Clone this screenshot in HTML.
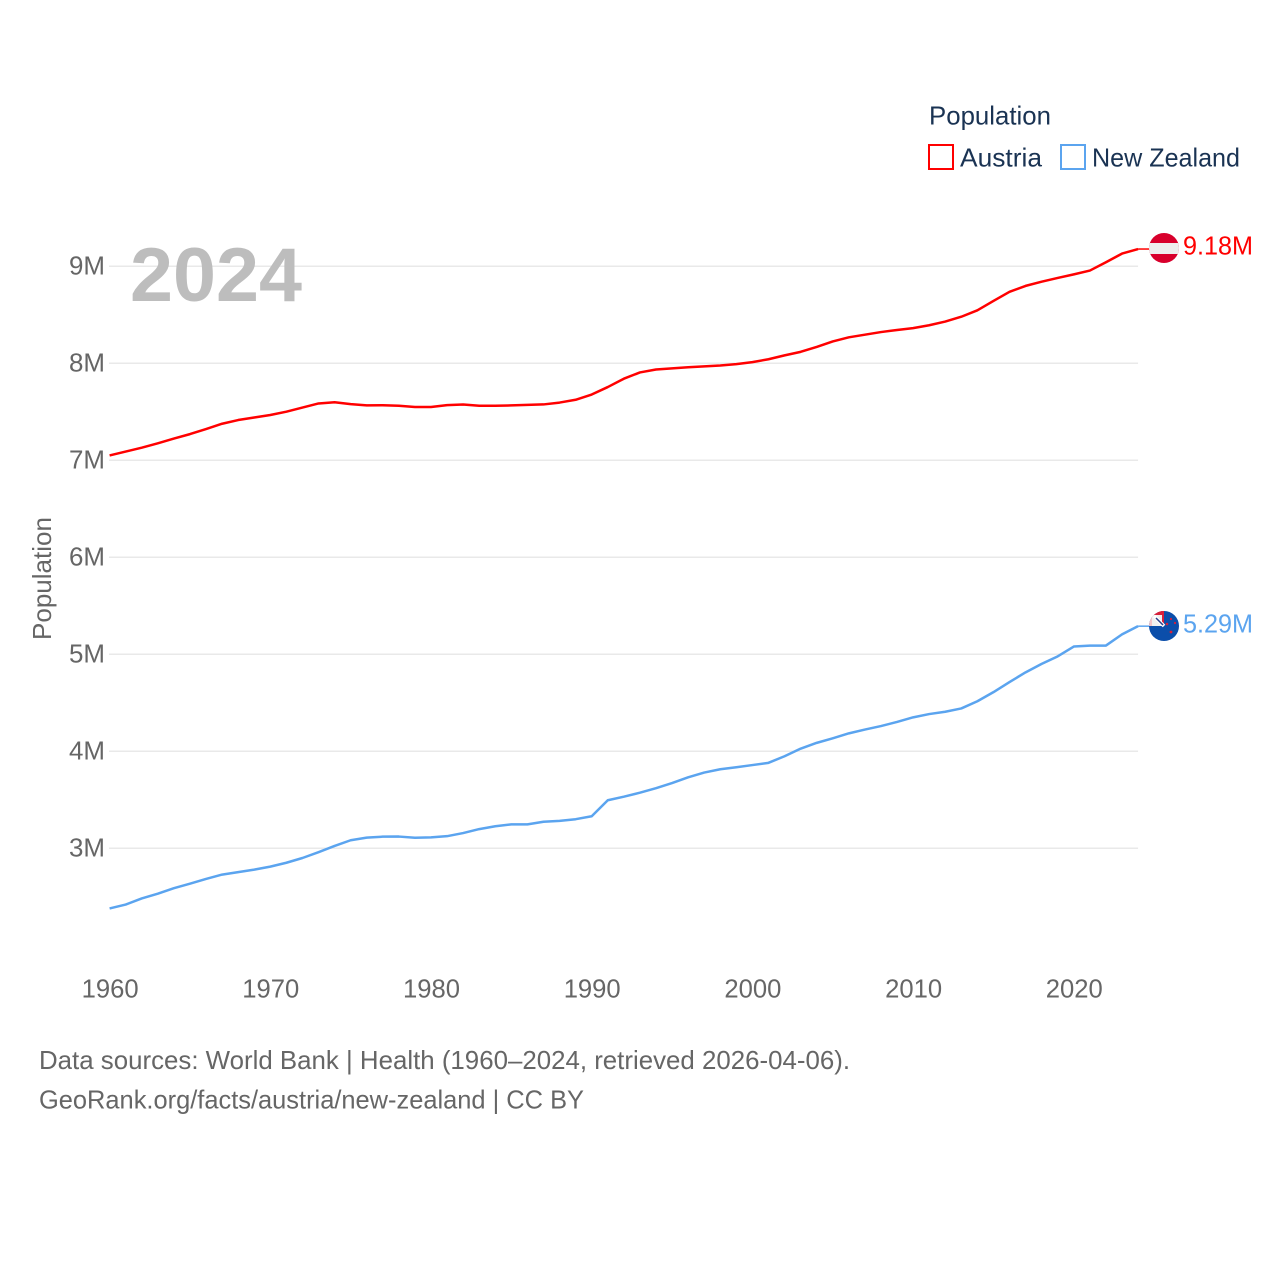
<!DOCTYPE html>
<html lang="en">
<head>
<meta charset="utf-8">
<title>Population: Austria and New Zealand</title>
<style>
html,body{margin:0;padding:0;background:#fff;width:1280px;height:1280px;overflow:hidden}
svg{display:block}
text{font-family:"Liberation Sans",sans-serif}
</style>
</head>
<body>
<svg id="chart" xmlns="http://www.w3.org/2000/svg" width="1280" height="1280" viewBox="0 0 1280 1280">
  <defs>
    <clipPath id="flag-clip-at"><circle cx="1164" cy="248" r="15"/></clipPath>
    <clipPath id="flag-clip-nz"><circle cx="1164" cy="626" r="15"/></clipPath>
  </defs>
  <g id="grid"></g>
  <g id="y-ticks"></g>
  <g id="x-ticks"></g>
  <text transform="translate(51,640) rotate(-90)" font-size="26" fill="#666" textLength="123" lengthAdjust="spacingAndGlyphs">Population</text>
  <text x="130" y="301" font-size="76" font-weight="700" fill="#bdbdbd" textLength="172" lengthAdjust="spacingAndGlyphs">2024</text>
  <g id="series"></g>

  <g clip-path="url(#flag-clip-at)">
    <rect x="1149" y="233" width="30" height="30" fill="#d8002c"/>
    <rect x="1149" y="243" width="30" height="11" fill="#eeeeee"/>
  </g>
  <g clip-path="url(#flag-clip-nz)">
    <rect x="1149" y="611" width="30" height="30" fill="#0b4eaa"/>
    <rect x="1149" y="611" width="15" height="15" fill="#f4c4c8"/>
    <rect x="1149" y="611" width="15" height="4" fill="#d8203a"/>
    <rect x="1157" y="611" width="7" height="15" fill="#d8203a"/>
    <rect x="1152" y="615" width="10" height="11" fill="#f0f0f0"/>
    <path d="M1154 616 L1164 626" stroke="#fff" stroke-width="3.5"/>
    <path d="M1156 618 L1163 625" stroke="#2a3f8a" stroke-width="1.5"/>
    <circle cx="1171" cy="619" r="1.1" fill="#d8203a"/>
    <circle cx="1167" cy="624" r="1.3" fill="#d8203a"/>
    <circle cx="1175" cy="623" r="1.1" fill="#d8203a"/>
    <circle cx="1171" cy="632" r="1.4" fill="#d8203a"/>
  </g>
  <g id="end-labels"></g>

  <g>
    <text x="929" y="124.5" font-size="26" fill="#1a3353" textLength="122" lengthAdjust="spacingAndGlyphs">Population</text>
    <g>
      <rect x="929" y="145" width="24" height="24" fill="none" stroke="#ff0000" stroke-width="2"/>
      <text x="960" y="166.5" font-size="26" fill="#1a3353" textLength="82" lengthAdjust="spacingAndGlyphs">Austria</text>
    </g>
    <g>
      <rect x="1061" y="145" width="24" height="24" fill="none" stroke="#5ba4ef" stroke-width="2"/>
      <text x="1092" y="166.5" font-size="26" fill="#1a3353" textLength="148" lengthAdjust="spacingAndGlyphs">New Zealand</text>
    </g>
  </g>

  <text x="39" y="1069" font-size="26" fill="#666" textLength="811" lengthAdjust="spacingAndGlyphs">Data sources: World Bank | Health (1960–2024, retrieved 2026-04-06).</text>
  <text x="39" y="1108.5" font-size="26" fill="#666" textLength="545" lengthAdjust="spacingAndGlyphs">GeoRank.org/facts/austria/new-zealand | CC BY</text>
</svg>
<script>
const years = [1960,1961,1962,1963,1964,1965,1966,1967,1968,1969,1970,1971,1972,1973,1974,1975,1976,1977,1978,1979,1980,1981,1982,1983,1984,1985,1986,1987,1988,1989,1990,1991,1992,1993,1994,1995,1996,1997,1998,1999,2000,2001,2002,2003,2004,2005,2006,2007,2008,2009,2010,2011,2012,2013,2014,2015,2016,2017,2018,2019,2020,2021,2022,2023,2024];
const austria = [7.05,7.09,7.13,7.175,7.224,7.27,7.322,7.377,7.415,7.441,7.467,7.501,7.544,7.586,7.599,7.579,7.566,7.568,7.562,7.549,7.549,7.569,7.575,7.562,7.562,7.566,7.571,7.576,7.595,7.624,7.678,7.755,7.841,7.906,7.936,7.948,7.959,7.968,7.977,7.992,8.012,8.042,8.082,8.118,8.169,8.225,8.268,8.295,8.322,8.343,8.363,8.392,8.43,8.48,8.546,8.643,8.737,8.798,8.841,8.88,8.917,8.956,9.042,9.131,9.178];
const newZealand = [2.38,2.42,2.483,2.532,2.589,2.635,2.684,2.729,2.754,2.78,2.811,2.851,2.9,2.96,3.024,3.083,3.11,3.12,3.121,3.109,3.113,3.125,3.157,3.198,3.227,3.247,3.247,3.274,3.283,3.3,3.33,3.495,3.532,3.573,3.62,3.673,3.732,3.781,3.815,3.835,3.858,3.881,3.949,4.027,4.087,4.134,4.185,4.224,4.26,4.303,4.35,4.384,4.408,4.442,4.516,4.61,4.714,4.814,4.901,4.979,5.08,5.09,5.09,5.205,5.29];
const yTicks = [3,4,5,6,7,8,9];
const xTicks = [1960,1970,1980,1990,2000,2010,2020];

const NS = 'http://www.w3.org/2000/svg';
function xScale(year){ return 109.6 + (year - 1960) * 16.07; }
function yScale(val){ return 848.3 - (val - 3) * 97; }
function make(tag, parent){
  const el = document.createElementNS(NS, tag);
  parent.appendChild(el);
  return el;
}
const grid = document.getElementById('grid');
const yGroup = document.getElementById('y-ticks');
const xGroup = document.getElementById('x-ticks');
const seriesGroup = document.getElementById('series');
const endGroup = document.getElementById('end-labels');

yTicks.forEach(function(t){
  const line = make('line', grid);
  
  
  line.setAttribute('x1', 109);
  line.setAttribute('x2', xScale(2024));
  line.setAttribute('y1', yScale(t));
  line.setAttribute('y2', yScale(t));
  line.setAttribute('stroke', '#e9e9e9');
  line.setAttribute('stroke-width', 1.5);
  const label = make('text', yGroup);
  
  
  label.setAttribute('x', 69);
  label.setAttribute('y', yScale(t) + 8);
  label.setAttribute('font-size', 26);
  label.setAttribute('fill', '#666');
  label.setAttribute('textLength', 36);
  label.setAttribute('lengthAdjust', 'spacingAndGlyphs');
  label.textContent = t + 'M';
});

xTicks.forEach(function(t){
  const label = make('text', xGroup);
  
  
  label.setAttribute('x', xScale(t) - 28);
  label.setAttribute('y', 997.5);
  label.setAttribute('font-size', 26);
  label.setAttribute('fill', '#666');
  label.setAttribute('textLength', 57);
  label.setAttribute('lengthAdjust', 'spacingAndGlyphs');
  label.textContent = t;
});

function drawSeries(values, color, slug, labelY){
  const d = values.map(function(v, i){
    return (i ? 'L' : 'M') + xScale(years[i]).toFixed(2) + ' ' + yScale(v).toFixed(2);
  }).join(' ');
  const path = make('path', seriesGroup);
  
  
  path.setAttribute('d', d);
  path.setAttribute('fill', 'none');
  path.setAttribute('stroke', color);
  path.setAttribute('stroke-width', 2.5);
  path.setAttribute('stroke-linejoin', 'round');

  const last = values[values.length - 1];
  const connector = make('line', seriesGroup);
  
  
  connector.setAttribute('x1', xScale(2024));
  connector.setAttribute('x2', 1149);
  connector.setAttribute('y1', yScale(last));
  connector.setAttribute('y2', yScale(last));
  connector.setAttribute('stroke', color);
  connector.setAttribute('stroke-width', 1.5);

  const label = make('text', endGroup);
  
  
  label.setAttribute('x', 1183);
  label.setAttribute('y', labelY);
  label.setAttribute('font-size', 26);
  label.setAttribute('fill', color);
  label.setAttribute('textLength', 70);
  label.setAttribute('lengthAdjust', 'spacingAndGlyphs');
  label.textContent = last.toFixed(2) + 'M';
}
drawSeries(austria, '#ff0000', 'austria', 254.5);
drawSeries(newZealand, '#5ba4ef', 'new-zealand', 632.5);
</script>
</body>
</html>
